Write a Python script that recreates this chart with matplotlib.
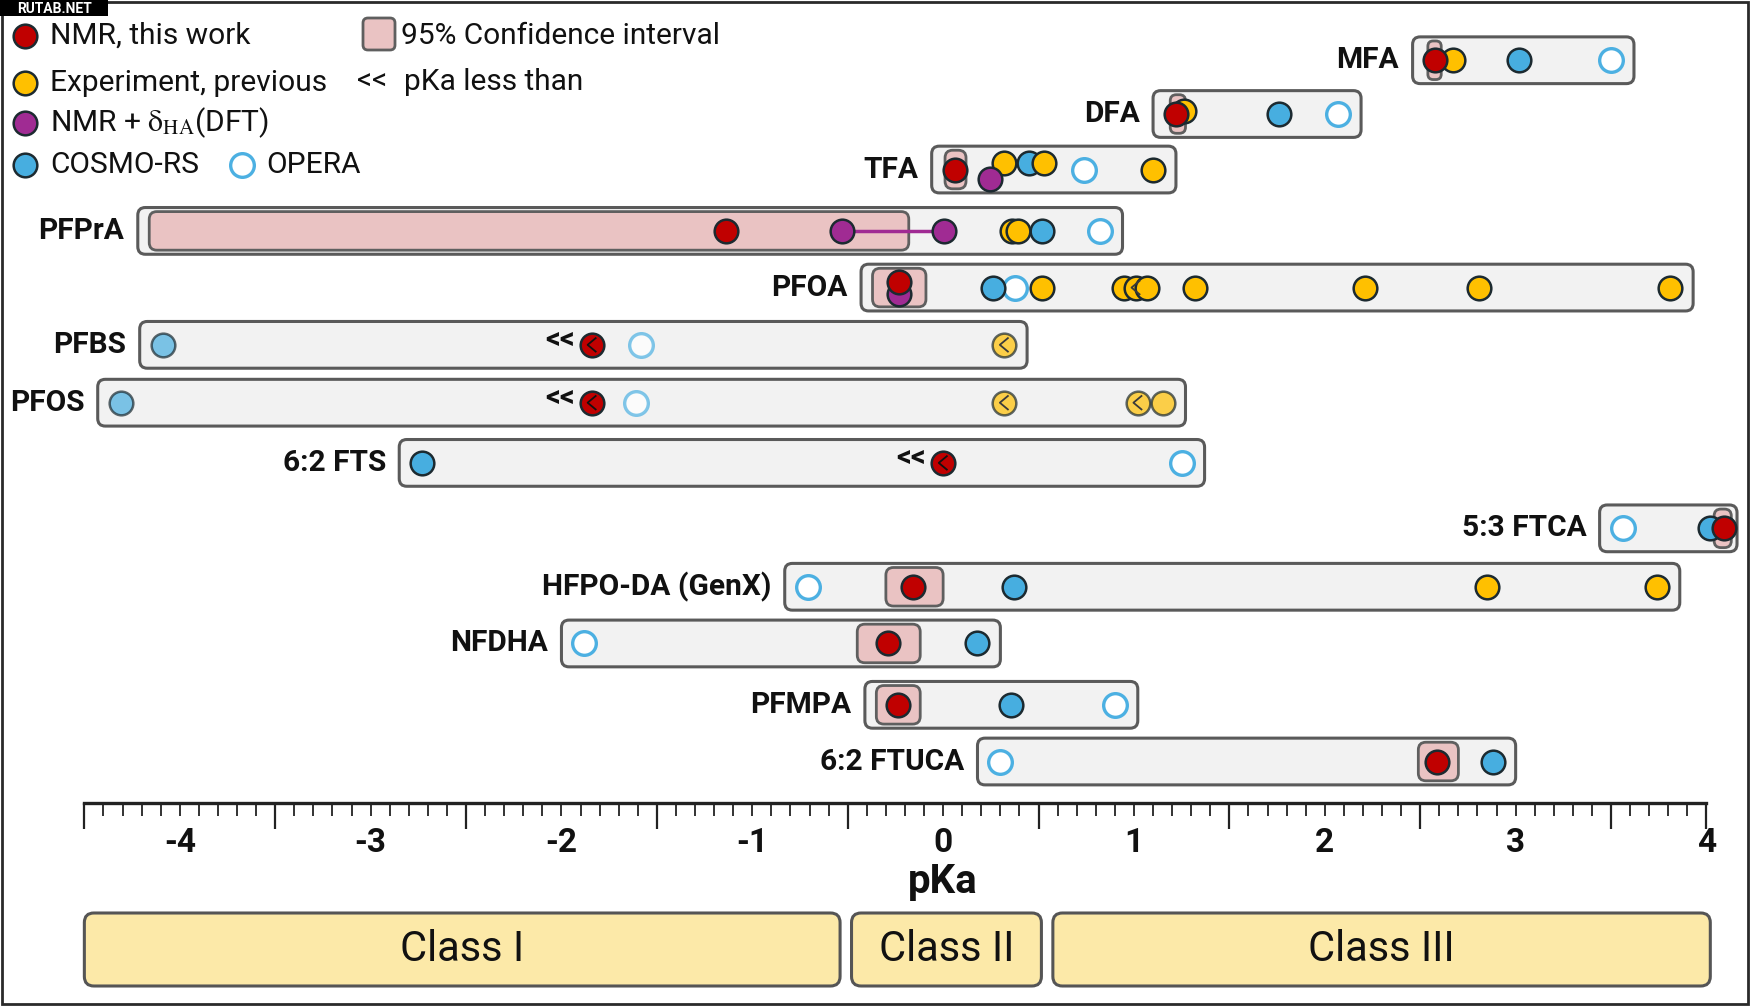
"""pKa comparison chart for PFAS compounds (NMR vs previous / predicted)."""
import matplotlib
matplotlib.use('Agg')
import matplotlib.pyplot as plt
import matplotlib.patches as mpatches
from matplotlib.path import Path
from matplotlib.ticker import FixedLocator
import numpy as np

plt.rcParams['font.family'] = ['Roboto', 'DejaVu Sans']
plt.rcParams['mathtext.fontset'] = 'stix'
plt.rcParams['axes.unicode_minus'] = False

# ---------------------------------------------------------------
# Data (pKa values)
# ---------------------------------------------------------------
compounds = ['MFA', 'DFA', 'TFA', 'PFPrA', 'PFOA', 'PFBS', 'PFOS', '6:2 FTS',
             '5:3 FTCA', 'HFPO-DA (GenX)', 'NFDHA', 'PFMPA', '6:2 FTUCA']
nmr = [2.58, 1.22, 0.06, -1.14, -0.23, -1.84, -1.84, 0.00, 4.09, -0.16, -0.29, -0.235, 2.59]
nmr_less = [False, False, False, False, False, True, True, True, False, False, False, False, False]
ci_low = [2.54, 1.19, 0.01, -4.16, -0.37, None, None, None, 4.04, -0.30, -0.45, -0.35, 2.49]
ci_high = [2.61, 1.27, 0.12, -0.18, -0.09, None, None, None, 4.13, 0.00, -0.12, -0.12, 2.70]
nmr_dft = [[], [], [0.245], [-0.53, 0.005], [-0.23], [], [], [], [], [], [], [], []]
experiment = [[2.67], [1.26], [0.32, 0.53, 1.10], [0.36, 0.39],
              [0.52, 0.95, 1.01, 1.07, 1.32, 2.21, 2.81, 3.81],
              [0.32], [0.32, 1.02, 1.15], [], [], [2.85, 3.74], [], [], []]
experiment_less = [[], [], [], [], [1.01], [0.32], [0.32, 1.02], [], [], [], [], [], []]
cosmo = [3.02, 1.76, 0.45, 0.52, 0.26, -4.09, -4.31, -2.73, 4.02, 0.37, 0.18, 0.355, 2.88]
opera = [3.50, 2.07, 0.74, 0.82, 0.375, -1.585, -1.61, 1.25, 3.56, -0.71, -1.88, 0.90, 0.30]

classes = ['Class I', 'Class II', 'Class III']
class_edges = [-4.5, -0.51, 0.545, 4.0]

# layout: vertical slot of each compound row
ROW_Y = [0.0, 0.92, 1.87, 2.92, 3.89, 4.87, 5.86, 6.89, 8.01, 9.01, 9.98, 11.03, 12.0]
# vertical nudges for crowded markers (row, method, index)
NUDGE = {('TFA', 'exp', 0): -0.12, ('TFA', 'exp', 1): -0.12, ('TFA', 'cosmo', 0): -0.12,
         ('TFA', 'dft', 0): 0.17, ('PFOA', 'nmr', 0): -0.10, ('PFOA', 'dft', 0): 0.11,
         ('DFA', 'exp', 0): -0.06}
FADED = {'PFBS', 'PFOS'}

# Colors
C_RED = '#c00000'
C_YEL = '#ffc000'
C_PUR = '#a02b93'
C_BLUE = '#47aee0'
C_EDGE = '#1c2a30'
C_ROW = '#f2f2f2'
C_ROW_EDGE = '#5a5a5a'
C_PINK = '#eac3c3'
C_CLASS = '#fce9a8'
MS = 290

# chevron used for the "less than" markers
LESS = Path([(0.3, 0.5), (-0.3, 0.0), (0.3, -0.5)], [Path.MOVETO, Path.LINETO, Path.LINETO])

W, H = 1750, 1006
fig = plt.figure(figsize=(W / 100, H / 100), dpi=100)

ax_h = 803
ax = fig.add_axes([0, 1 - ax_h / H, 1, ax_h / H])
ax.set_xlim(-4.942, 4.228)
ax.set_ylim(12.71, -1.031)
ax.patch.set_visible(False)
for s in ('top', 'left', 'right'):
    ax.spines[s].set_visible(False)
ax.set_yticks([])
asp = (13.741 / ax_h) / (9.17 / W)


def rbox(a, x, y, w, h, face, edge, lw, z, aspect, r=0.04):
    r = min(r, w / 2.5)
    p = mpatches.FancyBboxPatch((x, y - h / 2), w, h,
                                boxstyle=f'round,pad=0,rounding_size={r}',
                                mutation_aspect=aspect, facecolor=face,
                                edgecolor=edge, linewidth=lw, zorder=z, clip_on=False)
    a.add_patch(p)


def dy(name, method, k):
    return NUDGE.get((name, method, k), 0.0)


def less_mark(x, y, col='#111111'):
    ax.scatter([x], [y], s=110, marker=LESS, facecolors='none', edgecolors=col,
               linewidths=1.3, zorder=9)


for i, name in enumerate(compounds):
    y = ROW_Y[i]
    pts = [nmr[i], cosmo[i], opera[i]] + experiment[i] + nmr_dft[i]
    lo, hi = min(pts) - 0.12, max(pts) + 0.12
    if ci_low[i] is not None:
        lo = min(lo, ci_low[i] - 0.06)
        hi = max(hi, ci_high[i] + 0.06)
    hi = min(hi, 4.16)
    rbox(ax, lo, y, hi - lo, 0.8, C_ROW, C_ROW_EDGE, 2.2, 1, asp)
    ax.text(lo - 0.07, y, name, ha='right', va='center', fontsize=21.5,
            fontweight='bold', color='#111111')

    if ci_low[i] is not None:
        rbox(ax, ci_low[i], y, ci_high[i] - ci_low[i], 0.66, C_PINK, '#5f5f5f', 2.0, 2, asp)

    fa = 0.7 if name in FADED else 1.0
    # OPERA (open)
    ax.scatter([opera[i]], [y + dy(name, 'opera', 0)], s=MS, facecolors='white',
               edgecolors='#4cb0e2', linewidths=2.4, alpha=fa, zorder=4)
    # COSMO-RS
    ax.scatter([cosmo[i]], [y + dy(name, 'cosmo', 0)], s=MS, c=C_BLUE,
               edgecolors=C_EDGE, linewidths=1.8, alpha=fa, zorder=5)
    # previous experiments
    for k, v in enumerate(experiment[i]):
        ax.scatter([v], [y + dy(name, 'exp', k)], s=MS, c=C_YEL,
                   edgecolors=C_EDGE, linewidths=1.8, alpha=fa, zorder=6 + 0.01 * k)
        if v in experiment_less[i]:
            less_mark(v, y + dy(name, 'exp', k), '#3a3a3a')
    # NMR + DFT
    if len(nmr_dft[i]) > 1:
        ax.plot(nmr_dft[i], [y] * len(nmr_dft[i]), color=C_PUR, lw=2.5, zorder=3)
    for k, v in enumerate(nmr_dft[i]):
        ax.scatter([v], [y + dy(name, 'dft', k)], s=MS, c=C_PUR,
                   edgecolors=C_EDGE, linewidths=1.8, zorder=7)
    # NMR, this work
    ax.scatter([nmr[i]], [y + dy(name, 'nmr', 0)], s=MS, c=C_RED,
               edgecolors=C_EDGE, linewidths=1.8, zorder=8)
    if nmr_less[i]:
        less_mark(nmr[i], y)
        ax.text(nmr[i] - 0.09, y - 0.08, '<<', ha='right', va='center', fontsize=21,
                fontweight='bold', color='#111111', zorder=9)

# ---------------------------------------------------------------
# pKa ruler
# ---------------------------------------------------------------
ax.spines['bottom'].set_bounds(class_edges[0], class_edges[-1])
ax.spines['bottom'].set_linewidth(2.4)
ax.spines['bottom'].set_color('#222222')
ax.set_xticks(np.arange(-4, 5))
ax.set_xticklabels([str(v) for v in range(-4, 5)])
ax.xaxis.remove_overlapping_locs = False
ax.xaxis.set_minor_locator(FixedLocator(np.round(np.arange(-4.5, 4.001, 0.1), 2)))
ax.tick_params(axis='x', which='major', length=0, pad=17, labelsize=24, colors='#111111')
for lbl in ax.get_xticklabels():
    lbl.set_fontweight('bold')
ax.tick_params(axis='x', which='minor', length=9, width=1.3, color='#222222')

sec = ax.secondary_xaxis('bottom')
sec.set_xticks(list(np.arange(-4.5, 4.0, 1.0)) + [4.0])
sec.tick_params(axis='x', length=19, width=1.6, color='#222222', labelbottom=False)
sec.spines['bottom'].set_visible(False)

ax.set_xlabel('pKa', fontsize=29, fontweight='bold', color='#111111')
ax.xaxis.set_label_coords(4.942 / 9.17, -0.075)

# ---------------------------------------------------------------
# Class bands
# ---------------------------------------------------------------
cax = fig.add_axes([0, 20 / H, 1, 73 / H])
cax.set_xlim(-4.942, 4.228)
cax.set_ylim(0, 1)
cax.axis('off')
casp = (1.0 / 73) / (9.17 / W)
for k, cname in enumerate(classes):
    x0 = class_edges[k] + (0.03 if k > 0 else 0.0)
    x1 = class_edges[k + 1] - (0.03 if k < len(classes) - 1 else -0.02)
    rbox(cax, x0, 0.5, x1 - x0, 1.0, C_CLASS, '#555555', 2.2, 1, casp, r=0.05)
    cax.text((x0 + x1) / 2, 0.5, cname, ha='center', va='center', fontsize=30,
             color='#111111')

# ---------------------------------------------------------------
# Legend, frame, watermark (pixel coordinates)
# ---------------------------------------------------------------
lax = fig.add_axes([0, 0, 1, 1], zorder=5)
lax.set_xlim(0, W)
lax.set_ylim(H, 0)
lax.axis('off')
lax.patch.set_visible(False)

leg = [(C_RED, 'NMR, this work', 36), (C_YEL, 'Experiment, previous', 83),
       (C_PUR, r'NMR + $\mathrm{\delta}_{\mathrm{HA}}$(DFT)', 123), (C_BLUE, 'COSMO-RS', 165)]
for col, lab, yy in leg:
    lax.scatter([25], [yy], s=MS, c=col, edgecolors=C_EDGE, linewidths=1.8)
    lax.text(50, yy, lab, ha='left', va='center', fontsize=21.5, color='#111111')
lax.scatter([242], [165], s=MS, facecolors='white', edgecolors='#4cb0e2', linewidths=2.4)
lax.text(266, 165, 'OPERA', ha='left', va='center', fontsize=21.5, color='#111111')
lax.add_patch(mpatches.FancyBboxPatch((363, 18), 32, 32, boxstyle='round,pad=0,rounding_size=5',
                                      facecolor=C_PINK, edgecolor='#5f5f5f', linewidth=2.0))
lax.text(401, 36, '95% Confidence interval', ha='left', va='center', fontsize=21.5,
         color='#111111')
lax.text(357, 82, '<<', ha='left', va='center', fontsize=21.5, color='#111111')
lax.text(404, 82, 'pKa less than', ha='left', va='center', fontsize=21.5, color='#111111')

lax.add_patch(mpatches.Rectangle((2, 2), W - 4, H - 4, facecolor='none',
                                 edgecolor='#2a2a2a', linewidth=2.0))
lax.add_patch(mpatches.Rectangle((0, 0), 108, 16, facecolor='black', edgecolor='none'))
lax.text(54, 8.5, 'RUTAB.NET', ha='center', va='center', fontsize=10,
         fontweight='bold', color='white')

fig.savefig('out.png', dpi=100)
